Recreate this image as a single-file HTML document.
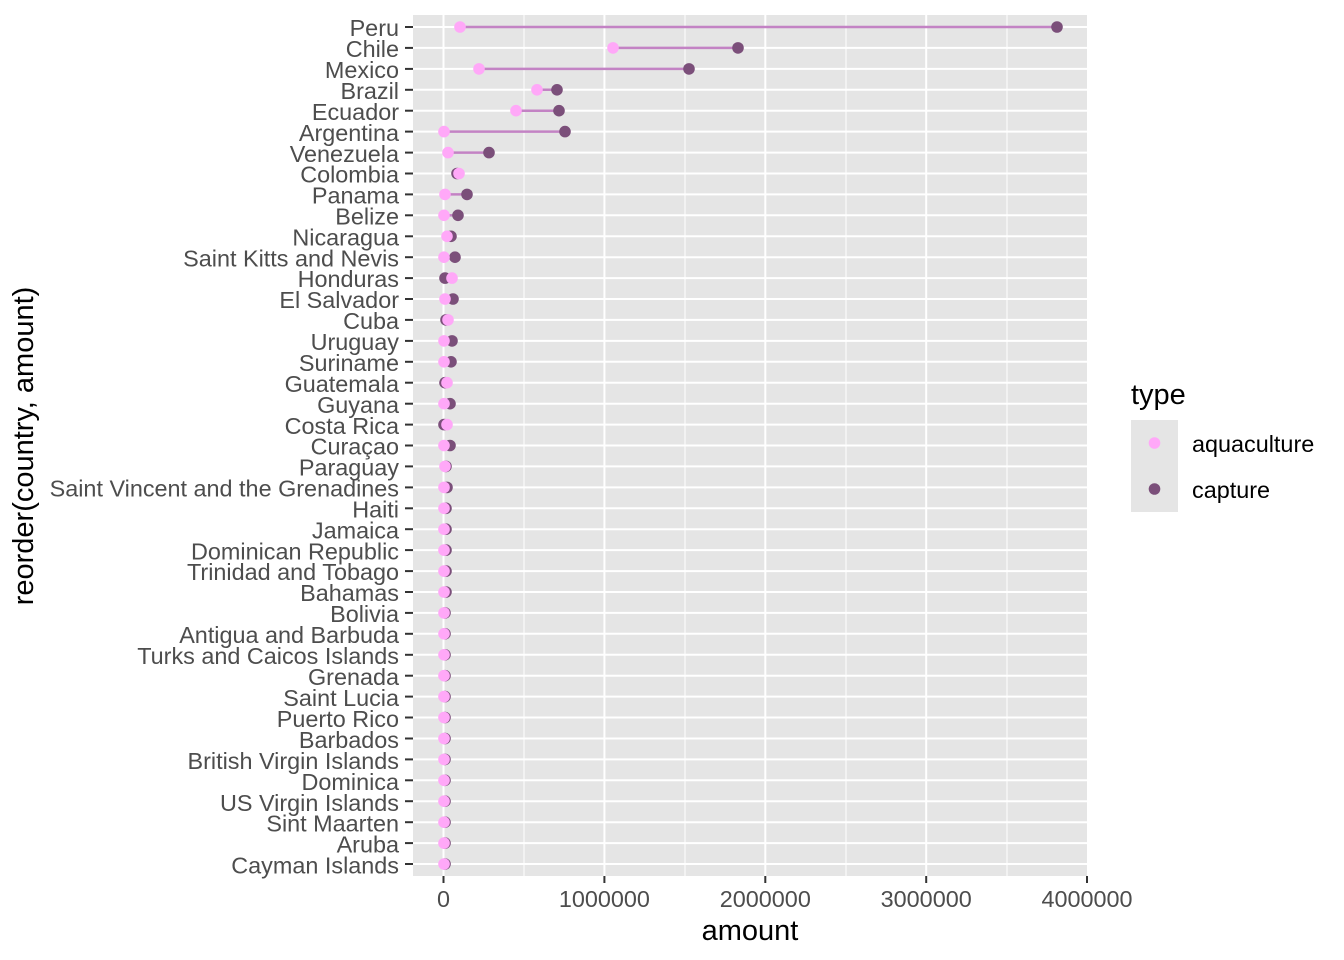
<!DOCTYPE html>
<html><head><meta charset="utf-8"><style>
html,body{margin:0;padding:0;background:#fff}
svg{display:block;font-family:"Liberation Sans",Arial,sans-serif}
</style></head><body>
<svg width="1344" height="960" viewBox="0 0 1344 960" xmlns="http://www.w3.org/2000/svg">
<rect x="413" y="15" width="674" height="861" fill="#e5e5e5"/>
<g stroke="#fff" stroke-width="1">
<line x1="524" y1="15" x2="524" y2="876"/><line x1="685" y1="15" x2="685" y2="876"/><line x1="846" y1="15" x2="846" y2="876"/><line x1="1007" y1="15" x2="1007" y2="876"/>
</g>
<g stroke="#fff" stroke-width="2">
<line x1="443.5" y1="15" x2="443.5" y2="876"/><line x1="604.4" y1="15" x2="604.4" y2="876"/><line x1="765.3" y1="15" x2="765.3" y2="876"/><line x1="926.2" y1="15" x2="926.2" y2="876"/>
<line x1="413" x2="1087" y1="27" y2="27"/><line x1="413" x2="1087" y1="47.9" y2="47.9"/><line x1="413" x2="1087" y1="68.9" y2="68.9"/><line x1="413" x2="1087" y1="89.8" y2="89.8"/><line x1="413" x2="1087" y1="110.7" y2="110.7"/><line x1="413" x2="1087" y1="131.6" y2="131.6"/><line x1="413" x2="1087" y1="152.6" y2="152.6"/><line x1="413" x2="1087" y1="173.5" y2="173.5"/><line x1="413" x2="1087" y1="194.4" y2="194.4"/><line x1="413" x2="1087" y1="215.3" y2="215.3"/><line x1="413" x2="1087" y1="236.3" y2="236.3"/><line x1="413" x2="1087" y1="257.2" y2="257.2"/><line x1="413" x2="1087" y1="278.1" y2="278.1"/><line x1="413" x2="1087" y1="299" y2="299"/><line x1="413" x2="1087" y1="319.9" y2="319.9"/><line x1="413" x2="1087" y1="340.9" y2="340.9"/><line x1="413" x2="1087" y1="361.8" y2="361.8"/><line x1="413" x2="1087" y1="382.7" y2="382.7"/><line x1="413" x2="1087" y1="403.7" y2="403.7"/><line x1="413" x2="1087" y1="424.6" y2="424.6"/><line x1="413" x2="1087" y1="445.5" y2="445.5"/><line x1="413" x2="1087" y1="466.4" y2="466.4"/><line x1="413" x2="1087" y1="487.4" y2="487.4"/><line x1="413" x2="1087" y1="508.3" y2="508.3"/><line x1="413" x2="1087" y1="529.2" y2="529.2"/><line x1="413" x2="1087" y1="550.1" y2="550.1"/><line x1="413" x2="1087" y1="571.1" y2="571.1"/><line x1="413" x2="1087" y1="592" y2="592"/><line x1="413" x2="1087" y1="612.9" y2="612.9"/><line x1="413" x2="1087" y1="633.8" y2="633.8"/><line x1="413" x2="1087" y1="654.8" y2="654.8"/><line x1="413" x2="1087" y1="675.7" y2="675.7"/><line x1="413" x2="1087" y1="696.6" y2="696.6"/><line x1="413" x2="1087" y1="717.5" y2="717.5"/><line x1="413" x2="1087" y1="738.5" y2="738.5"/><line x1="413" x2="1087" y1="759.4" y2="759.4"/><line x1="413" x2="1087" y1="780.3" y2="780.3"/><line x1="413" x2="1087" y1="801.2" y2="801.2"/><line x1="413" x2="1087" y1="822.2" y2="822.2"/><line x1="413" x2="1087" y1="843.1" y2="843.1"/><line x1="413" x2="1087" y1="864" y2="864"/>
</g>
<g stroke="#c383c4" stroke-width="2.5">
<line x1="460" x2="1057" y1="27" y2="27"/><line x1="613" x2="738" y1="47.9" y2="47.9"/><line x1="479" x2="689" y1="68.9" y2="68.9"/><line x1="537" x2="557" y1="89.8" y2="89.8"/><line x1="516" x2="559" y1="110.7" y2="110.7"/><line x1="444" x2="565" y1="131.6" y2="131.6"/><line x1="448" x2="489" y1="152.6" y2="152.6"/><line x1="445" x2="467" y1="194.4" y2="194.4"/><line x1="444" x2="458" y1="215.3" y2="215.3"/><line x1="444" x2="455" y1="257.2" y2="257.2"/>
</g>
<g fill="#7b4f7a">
<circle cx="1057" cy="27" r="5.8"/><circle cx="738" cy="47.9" r="5.8"/><circle cx="689" cy="68.9" r="5.8"/><circle cx="557" cy="89.8" r="5.8"/><circle cx="559" cy="110.7" r="5.8"/><circle cx="565" cy="131.6" r="5.8"/><circle cx="489" cy="152.6" r="5.8"/><circle cx="457" cy="173.5" r="5.8"/><circle cx="467" cy="194.4" r="5.8"/><circle cx="458" cy="215.3" r="5.8"/><circle cx="451" cy="236.3" r="5.8"/><circle cx="455" cy="257.2" r="5.8"/><circle cx="445" cy="278.1" r="5.8"/><circle cx="453" cy="299" r="5.8"/><circle cx="446" cy="319.9" r="5.8"/><circle cx="452" cy="340.9" r="5.8"/><circle cx="451" cy="361.8" r="5.8"/><circle cx="445" cy="382.7" r="5.8"/><circle cx="450" cy="403.7" r="5.8"/><circle cx="444" cy="424.6" r="5.8"/><circle cx="450" cy="445.5" r="5.8"/><circle cx="446" cy="466.4" r="5.8"/><circle cx="447" cy="487.4" r="5.8"/><circle cx="446" cy="508.3" r="5.8"/><circle cx="446" cy="529.2" r="5.8"/><circle cx="446" cy="550.1" r="5.8"/><circle cx="446" cy="571.1" r="5.8"/><circle cx="446" cy="592" r="5.8"/><circle cx="445" cy="612.9" r="5.8"/><circle cx="445" cy="633.8" r="5.8"/><circle cx="445" cy="654.8" r="5.8"/><circle cx="445" cy="675.7" r="5.8"/><circle cx="445" cy="696.6" r="5.8"/><circle cx="445" cy="717.5" r="5.8"/><circle cx="445" cy="738.5" r="5.8"/><circle cx="445" cy="759.4" r="5.8"/><circle cx="445" cy="780.3" r="5.8"/><circle cx="445" cy="801.2" r="5.8"/><circle cx="445" cy="822.2" r="5.8"/><circle cx="445" cy="843.1" r="5.8"/><circle cx="445" cy="864" r="5.8"/>
</g>
<g fill="#ffa8f8">
<circle cx="460" cy="27" r="5.8"/><circle cx="613" cy="47.9" r="5.8"/><circle cx="479" cy="68.9" r="5.8"/><circle cx="537" cy="89.8" r="5.8"/><circle cx="516" cy="110.7" r="5.8"/><circle cx="444" cy="131.6" r="5.8"/><circle cx="448" cy="152.6" r="5.8"/><circle cx="459" cy="173.5" r="5.8"/><circle cx="445" cy="194.4" r="5.8"/><circle cx="444" cy="215.3" r="5.8"/><circle cx="447" cy="236.3" r="5.8"/><circle cx="444" cy="257.2" r="5.8"/><circle cx="452" cy="278.1" r="5.8"/><circle cx="445" cy="299" r="5.8"/><circle cx="448" cy="319.9" r="5.8"/><circle cx="444" cy="340.9" r="5.8"/><circle cx="444" cy="361.8" r="5.8"/><circle cx="447" cy="382.7" r="5.8"/><circle cx="444" cy="403.7" r="5.8"/><circle cx="447" cy="424.6" r="5.8"/><circle cx="444" cy="445.5" r="5.8"/><circle cx="445" cy="466.4" r="5.8"/><circle cx="444" cy="487.4" r="5.8"/><circle cx="444" cy="508.3" r="5.8"/><circle cx="444" cy="529.2" r="5.8"/><circle cx="444" cy="550.1" r="5.8"/><circle cx="444" cy="571.1" r="5.8"/><circle cx="444" cy="592" r="5.8"/><circle cx="444" cy="612.9" r="5.8"/><circle cx="444" cy="633.8" r="5.8"/><circle cx="444" cy="654.8" r="5.8"/><circle cx="444" cy="675.7" r="5.8"/><circle cx="444" cy="696.6" r="5.8"/><circle cx="444" cy="717.5" r="5.8"/><circle cx="444" cy="738.5" r="5.8"/><circle cx="444" cy="759.4" r="5.8"/><circle cx="444" cy="780.3" r="5.8"/><circle cx="444" cy="801.2" r="5.8"/><circle cx="444" cy="822.2" r="5.8"/><circle cx="444" cy="843.1" r="5.8"/><circle cx="444" cy="864" r="5.8"/>
</g>
<g stroke="#333" stroke-width="2">
<line x1="405" x2="413" y1="27" y2="27"/><line x1="405" x2="413" y1="47.9" y2="47.9"/><line x1="405" x2="413" y1="68.9" y2="68.9"/><line x1="405" x2="413" y1="89.8" y2="89.8"/><line x1="405" x2="413" y1="110.7" y2="110.7"/><line x1="405" x2="413" y1="131.6" y2="131.6"/><line x1="405" x2="413" y1="152.6" y2="152.6"/><line x1="405" x2="413" y1="173.5" y2="173.5"/><line x1="405" x2="413" y1="194.4" y2="194.4"/><line x1="405" x2="413" y1="215.3" y2="215.3"/><line x1="405" x2="413" y1="236.3" y2="236.3"/><line x1="405" x2="413" y1="257.2" y2="257.2"/><line x1="405" x2="413" y1="278.1" y2="278.1"/><line x1="405" x2="413" y1="299" y2="299"/><line x1="405" x2="413" y1="319.9" y2="319.9"/><line x1="405" x2="413" y1="340.9" y2="340.9"/><line x1="405" x2="413" y1="361.8" y2="361.8"/><line x1="405" x2="413" y1="382.7" y2="382.7"/><line x1="405" x2="413" y1="403.7" y2="403.7"/><line x1="405" x2="413" y1="424.6" y2="424.6"/><line x1="405" x2="413" y1="445.5" y2="445.5"/><line x1="405" x2="413" y1="466.4" y2="466.4"/><line x1="405" x2="413" y1="487.4" y2="487.4"/><line x1="405" x2="413" y1="508.3" y2="508.3"/><line x1="405" x2="413" y1="529.2" y2="529.2"/><line x1="405" x2="413" y1="550.1" y2="550.1"/><line x1="405" x2="413" y1="571.1" y2="571.1"/><line x1="405" x2="413" y1="592" y2="592"/><line x1="405" x2="413" y1="612.9" y2="612.9"/><line x1="405" x2="413" y1="633.8" y2="633.8"/><line x1="405" x2="413" y1="654.8" y2="654.8"/><line x1="405" x2="413" y1="675.7" y2="675.7"/><line x1="405" x2="413" y1="696.6" y2="696.6"/><line x1="405" x2="413" y1="717.5" y2="717.5"/><line x1="405" x2="413" y1="738.5" y2="738.5"/><line x1="405" x2="413" y1="759.4" y2="759.4"/><line x1="405" x2="413" y1="780.3" y2="780.3"/><line x1="405" x2="413" y1="801.2" y2="801.2"/><line x1="405" x2="413" y1="822.2" y2="822.2"/><line x1="405" x2="413" y1="843.1" y2="843.1"/><line x1="405" x2="413" y1="864" y2="864"/>
<line x1="443.5" x2="443.5" y1="876" y2="883"/><line x1="604.4" x2="604.4" y1="876" y2="883"/><line x1="765.3" x2="765.3" y1="876" y2="883"/><line x1="926.2" x2="926.2" y1="876" y2="883"/><line x1="1087" x2="1087" y1="876" y2="883"/>
</g>
<g fill="#4d4d4d" font-size="23.4" text-anchor="end" dominant-baseline="central">
<text x="399" y="28">Peru</text><text x="399" y="49">Chile</text><text x="399" y="70">Mexico</text><text x="399" y="91">Brazil</text><text x="399" y="112">Ecuador</text><text x="399" y="133">Argentina</text><text x="399" y="154">Venezuela</text><text x="399" y="174.5">Colombia</text><text x="399" y="195.5">Panama</text><text x="399" y="216.5">Belize</text><text x="399" y="237.5">Nicaragua</text><text x="399" y="258.5">Saint Kitts and Nevis</text><text x="399" y="279">Honduras</text><text x="399" y="300">El Salvador</text><text x="399" y="321">Cuba</text><text x="399" y="342">Uruguay</text><text x="399" y="363">Suriname</text><text x="399" y="384">Guatemala</text><text x="399" y="405">Guyana</text><text x="399" y="426">Costa Rica</text><text x="399" y="446.5">Curaçao</text><text x="399" y="467.5">Paraguay</text><text x="399" y="488.5">Saint Vincent and the Grenadines</text><text x="399" y="509.5">Haiti</text><text x="399" y="530.5">Jamaica</text><text x="399" y="551.5">Dominican Republic</text><text x="399" y="572">Trinidad and Tobago</text><text x="399" y="593">Bahamas</text><text x="399" y="614">Bolivia</text><text x="399" y="635">Antigua and Barbuda</text><text x="399" y="656">Turks and Caicos Islands</text><text x="399" y="677">Grenada</text><text x="399" y="698">Saint Lucia</text><text x="399" y="719">Puerto Rico</text><text x="399" y="740">Barbados</text><text x="399" y="761">British Virgin Islands</text><text x="399" y="782">Dominica</text><text x="399" y="803">US Virgin Islands</text><text x="399" y="823.5">Sint Maarten</text><text x="399" y="844.5">Aruba</text><text x="399" y="865.5">Cayman Islands</text>
</g>
<g fill="#4d4d4d" font-size="23.4" text-anchor="middle">
<text x="443.5" y="907">0</text><text x="604.4" y="907">1000000</text><text x="765.3" y="907">2000000</text><text x="926.2" y="907">3000000</text><text x="1087" y="907">4000000</text>
</g>
<text x="750" y="940" font-size="29" text-anchor="middle" fill="#000">amount</text>
<text transform="translate(33,446) rotate(-90)" font-size="29" text-anchor="middle" fill="#000">reorder(country, amount)</text>
<text x="1131" y="404" font-size="29" fill="#000">type</text>
<rect x="1131" y="420" width="47" height="92" fill="#e5e5e5"/>
<circle cx="1154.5" cy="443" r="5.8" fill="#ffa8f8"/>
<circle cx="1154.5" cy="489" r="5.8" fill="#7b4f7a"/>
<text x="1192" y="452" font-size="23.4" fill="#000">aquaculture</text>
<text x="1192" y="498" font-size="23.4" fill="#000">capture</text>
</svg>
</body></html>
